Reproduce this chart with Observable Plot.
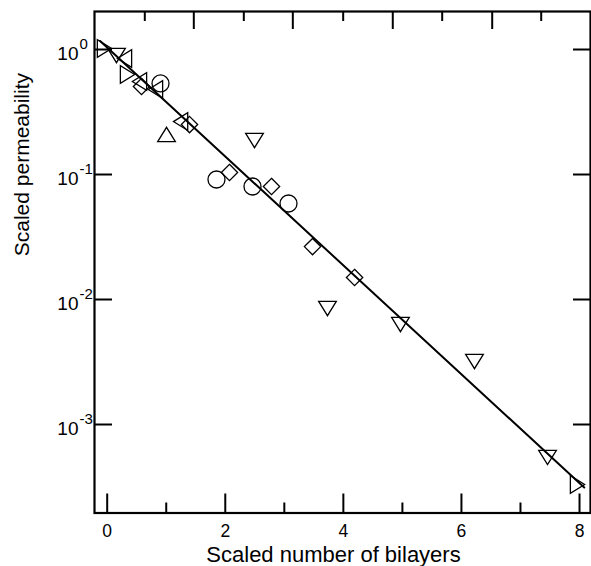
<!DOCTYPE html>
<html>
<head>
<meta charset="utf-8">
<script src="https://cdn.jsdelivr.net/npm/d3@7"></script>
<script src="https://cdn.jsdelivr.net/npm/@observablehq/plot@0.6"></script>
<style>
  html, body { margin: 0; padding: 0; background: white; }
</style>
</head>
<body>
<div id="chart"></div>
<script>
// ---- data ----
const shapes = ["right","down","left","right","left","diamond","left","circle","up","left","diamond","down",
                "circle","diamond","circle","diamond","circle","diamond","diamond","down","down","down","down","right"];
const xs = [-0.046, 0.157, 0.293, 0.344, 0.547, 0.581, 0.818, 0.903, 1.005, 1.243, 1.394, 2.495,
            1.851, 2.071, 2.461, 2.783, 3.071, 3.478, 4.19, 3.731, 4.967, 6.221, 7.458, 7.966];
const ys = [1.02, 0.895, 0.847, 0.631, 0.555, 0.506, 0.479, 0.535, 0.209, 0.265, 0.251, 0.187,
            0.0912, 0.1038, 0.0802, 0.0802, 0.0586, 0.0265, 0.0150, 0.00847, 0.00631, 0.00319, 0.000545, 0.000331];
const fitX = [-0.12, 8.08];
const fitY = [1.17, 0.000313];

const xMajor = [0, 2, 4, 6, 8];
const xMinor = [1, 3, 5, 7];
const topMajor = [1.467, 3.144, 4.837, 6.521];
const topMinor = [0.637, 2.314, 3.997, 5.674, 7.351];
const yTicks = [1, 0.1, 0.01, 0.001];
const yExp = ["0", "-1", "-2", "-3"];

const xTitle = "Scaled number of bilayers";
const yTitle = "Scaled permeability";

// ---- build table ----
const points = xs.map((x, i) => ({x, y: ys[i], shape: shapes[i]}));

// ---- custom symbols ----
function triangle(dir) {
  return {
    draw(ctx, size) {
      const s = Math.sqrt(size / Math.PI);
      const a = 1.04 * s, b = 0.84 * s;
      if (dir === "down") { ctx.moveTo(-a, -b); ctx.lineTo(a, -b); ctx.lineTo(0, b); }
      else if (dir === "up") { ctx.moveTo(-a, b); ctx.lineTo(a, b); ctx.lineTo(0, -b); }
      else if (dir === "right") { ctx.moveTo(-b, -a); ctx.lineTo(-b, a); ctx.lineTo(b, 0); }
      else { ctx.moveTo(b, -a); ctx.lineTo(b, a); ctx.lineTo(-b, 0); }
      ctx.closePath();
    }
  };
}
const diamondSym = {
  draw(ctx, size) {
    const s = Math.sqrt(size / Math.PI) * 0.96;
    ctx.moveTo(0, -s); ctx.lineTo(s, 0); ctx.lineTo(0, s); ctx.lineTo(-s, 0); ctx.closePath();
  }
};
const circleSym = {
  draw(ctx, size) {
    const s = Math.sqrt(size / Math.PI);
    ctx.moveTo(s, 0); ctx.arc(0, 0, s, 0, 2 * Math.PI); ctx.closePath();
  }
};
const symbolFor = {
  up: triangle("up"), down: triangle("down"), left: triangle("left"), right: triangle("right"),
  diamond: diamondSym, circle: circleSym
};

const W = 591, H = 566;
const mL = 94, mR = 1, mT = 11, mB = 53.5;
const plotW = W - mL - mR, plotH = H - mT - mB;

const dotMarks = Object.keys(symbolFor).map(k =>
  Plot.dot(points.filter(p => p.shape === k), {
    x: "x", y: "y", r: 8.5, symbol: symbolFor[k],
    fill: "none", stroke: "black", strokeWidth: 1.3
  })
);

const chart = Plot.plot({
  width: W, height: H,
  marginLeft: mL, marginRight: mR, marginTop: mT, marginBottom: mB,
  x: {domain: [-0.215, 8.186], axis: null},
  y: {type: "log", domain: [1.959e-4, 2.014], axis: null},
  style: {fontFamily: "'Liberation Sans', Arial, sans-serif", background: "white", color: "black", overflow: "visible"},
  marks: [
    // ticks
    Plot.tickX(xMajor, {x: d => d, insetTop: plotH - 19, stroke: "black", strokeWidth: 2}),
    Plot.tickX(xMinor, {x: d => d, insetTop: plotH - 10, stroke: "black", strokeWidth: 2}),
    Plot.tickX(topMajor, {x: d => d, insetBottom: plotH - 18, stroke: "black", strokeWidth: 2}),
    Plot.tickX(topMinor, {x: d => d, insetBottom: plotH - 10, stroke: "black", strokeWidth: 2}),
    Plot.tickY(yTicks, {y: d => d, insetRight: plotW - 18, stroke: "black", strokeWidth: 2}),
    Plot.tickY(yTicks, {y: d => d, insetLeft: plotW - 17, stroke: "black", strokeWidth: 2}),
    // fit line
    Plot.line(fitX.map((x, i) => ({x, y: fitY[i]})), {x: "x", y: "y", stroke: "black", strokeWidth: 2}),
    // data points
    ...dotMarks,
    // frame
    Plot.frame({stroke: "black", strokeWidth: 2.2}),
    // tick labels
    Plot.text(xMajor, {x: d => d, text: d => String(d), frameAnchor: "bottom", lineAnchor: "top", dy: 11.5, fontSize: 17.5, fill: "black"}),
    Plot.text(yTicks, {y: d => d, text: () => "10", frameAnchor: "left", textAnchor: "end", dx: -16, dy: 4.5, fontSize: 19, fill: "black"}),
    Plot.text(yTicks, {y: d => d, text: (d, i) => yExp[i], frameAnchor: "left", textAnchor: "start", dx: -15, dy: -5.5, fontSize: 15, fill: "black"}),
    // axis titles
    Plot.text([xTitle], {text: d => d, frameAnchor: "bottom", lineAnchor: "top", dy: 33, dx: -9, fontSize: 22, fill: "black"}),
    Plot.text([yTitle], {text: d => d, frameAnchor: "left", rotate: -90, dx: -72.6, dy: -6, fontSize: 21, fill: "black"})
  ]
});
document.getElementById("chart").appendChild(chart);
</script>
</body>
</html>
